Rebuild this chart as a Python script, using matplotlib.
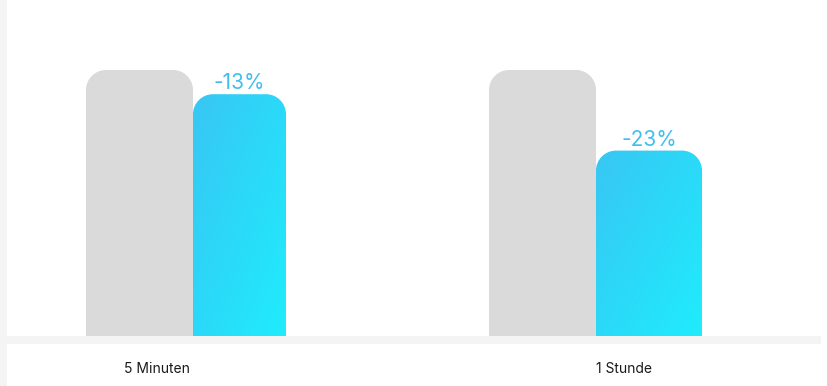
import matplotlib
matplotlib.use("Agg")
import matplotlib.pyplot as plt
import numpy as np
from matplotlib.path import Path
from matplotlib.patches import PathPatch, Rectangle
from matplotlib.colors import LinearSegmentedColormap

# ---- data ----
categories = ["5 Minuten", "1 Stunde"]
baseline_values = [100.0, 100.0]
improved_values = [90.9, 69.7]
change_labels = ["-13%", "-23%"]

# ---- styles / layout ----
W, H, DPI = 827, 386, 100
gray = "#dadada"
strip = "#f4f4f4"
label_blue = "#40bfee"
grad = LinearSegmentedColormap.from_list("g", ["#39c6f3", "#2bd9f8", "#20ecfd"])
gray_width = 107 / 403
blue_widths = [93 / 403, 106 / 403]
label_offsets = [-0.089, 0.069]
radius_px = 20

fig = plt.figure(figsize=(W / DPI, H / DPI), dpi=DPI)
fig.patch.set_facecolor("white")

# frame strips (figure coords)
fig.patches.append(Rectangle((0, 0), 7 / W, 1, transform=fig.transFigure,
                             facecolor=strip, edgecolor="none", zorder=0))
fig.patches.append(Rectangle((0, (H - 344) / H), 821 / W, 8 / H, transform=fig.transFigure,
                             facecolor=strip, edgecolor="none", zorder=0))

ax = fig.add_axes([7 / W, (H - 336) / H, (821 - 7) / W, 336 / H])
ax.set_facecolor("white")
ax.set_xlim((7 - 193) / 403, (821 - 193) / 403)
ax.set_ylim(0, 336 / 266 * 100)
for s in ax.spines.values():
    s.set_visible(False)
ax.set_yticks([])

# data units per pixel
px_x = (ax.get_xlim()[1] - ax.get_xlim()[0]) / (821 - 7)
px_y = (ax.get_ylim()[1] - ax.get_ylim()[0]) / 336
rx = radius_px * px_x
ry = radius_px * px_y
K = 0.5523


def rounded_top_path(x0, x1, h):
    verts = [
        (x0, 0), (x0, h - ry),
        (x0, h - ry + K * ry), (x0 + rx - K * rx, h), (x0 + rx, h),
        (x1 - rx, h),
        (x1 - rx + K * rx, h), (x1, h - ry + K * ry), (x1, h - ry),
        (x1, 0), (x0, 0),
    ]
    codes = [Path.MOVETO, Path.LINETO,
             Path.CURVE4, Path.CURVE4, Path.CURVE4,
             Path.LINETO,
             Path.CURVE4, Path.CURVE4, Path.CURVE4,
             Path.LINETO, Path.CLOSEPOLY]
    return Path(verts, codes)


for i, cat in enumerate(categories):
    # gray baseline bar
    gx0, gx1 = i - gray_width, i
    ax.add_patch(PathPatch(rounded_top_path(gx0, gx1, baseline_values[i]),
                           facecolor=gray, edgecolor="none", zorder=2))
    # gradient bar
    bx0, bx1 = i, i + blue_widths[i]
    h = improved_values[i]
    patch = PathPatch(rounded_top_path(bx0, bx1, h), facecolor="none",
                      edgecolor="none", zorder=2)
    ax.add_patch(patch)
    uu, vv = np.meshgrid(np.linspace(0, 1, 100), np.linspace(0, 1, 200))
    t = (uu + vv) / 2.0  # 0 top-left, 1 bottom-right
    im = ax.imshow(t, cmap=grad, extent=(bx0, bx1, 0, h), origin="upper",
                   aspect="auto", zorder=2, interpolation="bilinear")
    im.set_clip_path(patch)
    ax.annotate(change_labels[i], xy=((bx0 + bx1) / 2, h), xytext=(0, 3.6),
                textcoords="offset points", ha="center", va="baseline",
                fontsize=15, color=label_blue, family="Inter", fontweight="normal")

ax.set_xlim((7 - 193) / 403, (821 - 193) / 403)
ax.set_ylim(0, 336 / 266 * 100)
ax.set_xticks([i + label_offsets[i] for i in range(len(categories))])
ax.set_xticklabels(categories, fontsize=10, color="#1a1a1a", family="Inter")
ax.tick_params(axis="x", length=0, pad=19)

fig.savefig("out.png", dpi=DPI, facecolor="white")
